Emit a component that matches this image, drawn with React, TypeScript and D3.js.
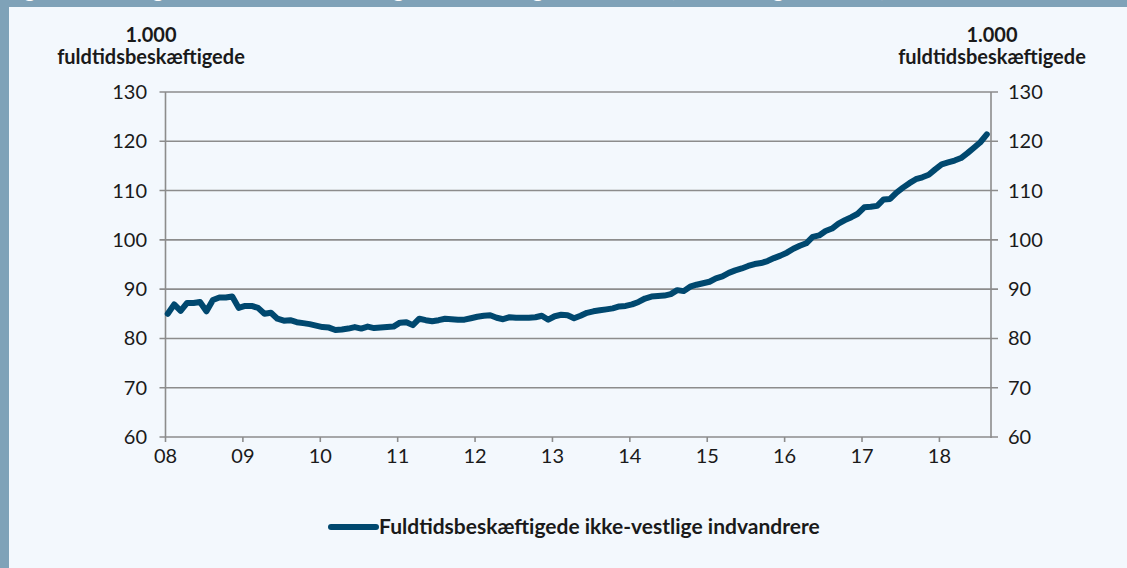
import * as React from "react";
import * as d3 from "d3";

// monthly values, jan 2008 - aug 2018 (1.000 fuldtidsbeskæftigede)
const values2008 = [85.0, 86.9, 85.6, 87.2, 87.2, 87.4, 85.5, 87.8, 88.3, 88.3, 88.5, 86.2];
const values2009 = [86.6, 86.6, 86.2, 85.0, 85.2, 84.0, 83.6, 83.7, 83.3, 83.1, 82.9, 82.6];
const values2010 = [82.3, 82.2, 81.7, 81.8, 82.0, 82.3, 82.0, 82.4, 82.1, 82.2, 82.3, 82.4];
const values2011 = [83.2, 83.3, 82.7, 84.0, 83.7, 83.5, 83.7, 84.0, 83.9, 83.8, 83.8, 84.1];
const values2012 = [84.4, 84.6, 84.7, 84.2, 83.9, 84.3, 84.2, 84.2, 84.2, 84.3, 84.6, 83.8];
const values2013 = [84.5, 84.8, 84.7, 84.1, 84.6, 85.2, 85.5, 85.7, 85.9, 86.1, 86.5, 86.6];
const values2014 = [86.9, 87.4, 88.1, 88.5, 88.6, 88.7, 89.0, 89.8, 89.6, 90.5, 90.9, 91.2];
const values2015 = [91.5, 92.2, 92.6, 93.3, 93.8, 94.2, 94.7, 95.1, 95.3, 95.7, 96.3, 96.8];
const values2016 = [97.4, 98.2, 98.8, 99.3, 100.6, 100.9, 101.8, 102.3, 103.3, 104.0, 104.6, 105.3];
const values2017 = [106.6, 106.7, 106.9, 108.2, 108.3, 109.6, 110.6, 111.5, 112.3, 112.7, 113.2, 114.3];
const values2018 = [115.3, 115.7, 116.1, 116.6, 117.6, 118.7, 119.8, 121.4];

const series = [
  ...values2008, ...values2009, ...values2010, ...values2011, ...values2012, ...values2013,
  ...values2014, ...values2015, ...values2016, ...values2017, ...values2018,
];

const yearLabels = ["08", "09", "10", "11", "12", "13", "14", "15", "16", "17", "18"];
const yTicks = [60, 70, 80, 90, 100, 110, 120, 130];
const unitLine1 = "1.000";
const unitLine2 = "fuldtidsbeskæftigede";
const legendLabel = "Fuldtidsbeskæftigede ikke-vestlige indvandrere";
const title = "Figur 1. Udviklingen i antal fuldtidsbeskæftigede ikke-vestlige indvandrere (sæsonkorrigeret, 1.000)";

const W = 1127;
const H = 568;
const left = 165.5;
const right = 991;
const top = 92;
const bottom = 437;
const font = "Lato, 'Open Sans', sans-serif";
const gridColor = "#8c8c8c";
const lineColor = "#00486f";
const textColor = "#1a1a1a";

export default function App() {
  const x = d3.scaleLinear().domain([0, 128]).range([left, right]);
  const y = d3.scaleLinear().domain([60, 130]).range([bottom, top]);

  const line = d3
    .line<number>()
    .x((d, i) => x(i + 0.35))
    .y((d) => y(d));

  return (
    <svg width={W} height={H} style={{ position: "absolute", left: 0, top: 0 }}>
      <rect x={0} y={0} width={W} height={H} fill="#7fa2b8" />
      <text x={8} y={-3} fill="#ffffff" fontFamily={font} fontWeight="bold" fontSize={20}>
        {title}
      </text>
      <rect x={9} y={7} width={W - 9} height={H - 7} fill="#f3f8fd" />

      {/* grid + y ticks */}
      {yTicks.map((t) => (
        <g key={t}>
          <line x1={left - 6} x2={right + 7} y1={y(t)} y2={y(t)} stroke={gridColor} strokeWidth={1.6} />
          <text x={147} y={y(t) + 7} textAnchor="end" fontFamily={font} fontSize={20} fill={textColor}>
            {t}
          </text>
          <text x={1008} y={y(t) + 7} textAnchor="start" fontFamily={font} fontSize={20} fill={textColor}>
            {t}
          </text>
        </g>
      ))}
      <line x1={left} x2={left} y1={top} y2={bottom} stroke={gridColor} strokeWidth={1.6} />
      <line x1={right} x2={right} y1={top} y2={bottom + 1} stroke={gridColor} strokeWidth={1.6} />

      {/* x ticks */}
      {yearLabels.map((lbl, i) => (
        <g key={lbl}>
          <line x1={x(i * 12)} x2={x(i * 12)} y1={bottom} y2={bottom + 5} stroke={gridColor} strokeWidth={1.6} />
          <text x={x(i * 12)} y={463} textAnchor="middle" fontFamily={font} fontSize={20} fill={textColor}>
            {lbl}
          </text>
        </g>
      ))}

      {/* unit labels */}
      {[151, 992].map((cx) => (
        <g key={cx}>
          <text x={cx} y={42} textAnchor="middle" fontFamily={font} fontWeight="bold" fontSize={20} fill={textColor}>
            {unitLine1}
          </text>
          <text x={cx} y={64} textAnchor="middle" fontFamily={font} fontWeight="bold" fontSize={20} fill={textColor}>
            {unitLine2}
          </text>
        </g>
      ))}

      <path
        d={line(series) || ""}
        fill="none"
        stroke={lineColor}
        strokeWidth={6}
        strokeLinejoin="round"
        strokeLinecap="round"
      />

      {/* legend */}
      <line x1={331} x2={376} y1={527} y2={527} stroke={lineColor} strokeWidth={6} strokeLinecap="round" />
      <text x={379} y={534} fontFamily={font} fontWeight="bold" fontSize={21} fill={textColor}>
        {legendLabel}
      </text>
    </svg>
  );
}
